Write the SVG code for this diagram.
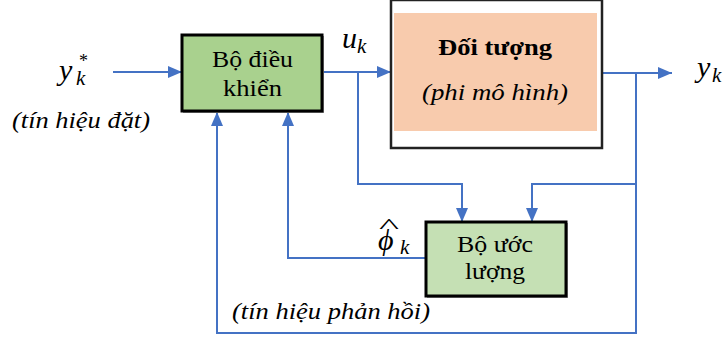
<svg xmlns="http://www.w3.org/2000/svg" width="726" height="337" viewBox="0 0 726 337">
<defs>
<marker id="ah" markerWidth="14" markerHeight="12" refX="14" refY="6" orient="auto" markerUnits="userSpaceOnUse" viewBox="0 0 14 12">
<path d="M0,0 L14,6 L0,12 Z" fill="#4472c4"/>
</marker>
<style>
.ln{fill:none;stroke:#4472c4;stroke-width:2}
.arr{marker-end:url(#ah)}
.t{font-family:'Liberation Serif','Times New Roman',serif;font-size:23px;fill:#000}
.b{font-family:'Liberation Serif','Times New Roman',serif;font-size:23px;font-weight:bold;fill:#000}
.it{font-family:'Liberation Serif','Times New Roman',serif;font-style:italic;font-size:23px;fill:#000}
.m{font-family:'Liberation Serif','Times New Roman',serif;font-style:italic;fill:#000}
</style>
</defs>
<rect width="726" height="337" fill="#fff"/>
<g id="connectors">
<path class="ln arr" d="M113,72 H182"/>
<path class="ln arr" d="M323,72 H391"/>
<path class="ln arr" d="M602,73 H672"/>
<path class="ln arr" d="M358,72 V184 H462 V222"/>
<path class="ln arr" d="M636,73 V184 H532 V222"/>
<path class="ln arr" d="M636,184 V333 H217 V112"/>
<path class="ln arr" d="M426,258 H288 V112"/>
</g>
<g id="controller">
<rect x="183" y="36" width="141" height="77" fill="#999"/>
<rect x="182" y="35" width="140" height="76" fill="#a9d18e" stroke="#000" stroke-width="3"/>
<text class="t" x="212" y="67" textLength="81" lengthAdjust="spacingAndGlyphs">Bộ điều</text>
<text class="t" x="223" y="96" textLength="59" lengthAdjust="spacingAndGlyphs">khiển</text>
</g>
<g id="plant">
<rect x="391" y="0" width="211" height="148" fill="#fff" stroke="#222" stroke-width="2.5"/>
<rect x="394" y="13" width="203" height="118" fill="#f8cbad"/>
<text class="b" x="438" y="55" textLength="114" lengthAdjust="spacingAndGlyphs">Đối tượng</text>
<text class="it" x="422" y="100" textLength="146" lengthAdjust="spacingAndGlyphs">(phi mô hình)</text>
</g>
<g id="estimator">
<rect x="427" y="223" width="141" height="75" fill="#999"/>
<rect x="426" y="222" width="140" height="74" fill="#c5e0b4" stroke="#000" stroke-width="3"/>
<text class="t" x="457" y="252" textLength="76" lengthAdjust="spacingAndGlyphs">Bộ ước</text>
<text class="t" x="465" y="279" textLength="60" lengthAdjust="spacingAndGlyphs">lượng</text>
</g>
<g id="labels">
<text class="m" x="59" y="80" font-size="30">y<tspan x="76" y="85" font-size="21">k</tspan><tspan x="79" y="67" font-size="18" font-style="normal">*</tspan></text>
<text class="it" x="12" y="128" textLength="138" lengthAdjust="spacingAndGlyphs">(tín hiệu đặt)</text>
<text class="m" x="342" y="48" font-size="30">u<tspan x="357" y="53" font-size="21">k</tspan></text>
<text class="m" x="697" y="77" font-size="30">y<tspan x="712" y="82" font-size="21">k</tspan></text>
<text class="m" x="378" y="250" font-size="30">ϕ<tspan x="379" y="233" font-size="20" font-style="normal" textLength="20" lengthAdjust="spacingAndGlyphs">^</tspan><tspan x="400" y="254" font-size="21">k</tspan></text>
<text class="it" x="232" y="319" textLength="198" lengthAdjust="spacingAndGlyphs">(tín hiệu phản hồi)</text>
</g>
</svg>
